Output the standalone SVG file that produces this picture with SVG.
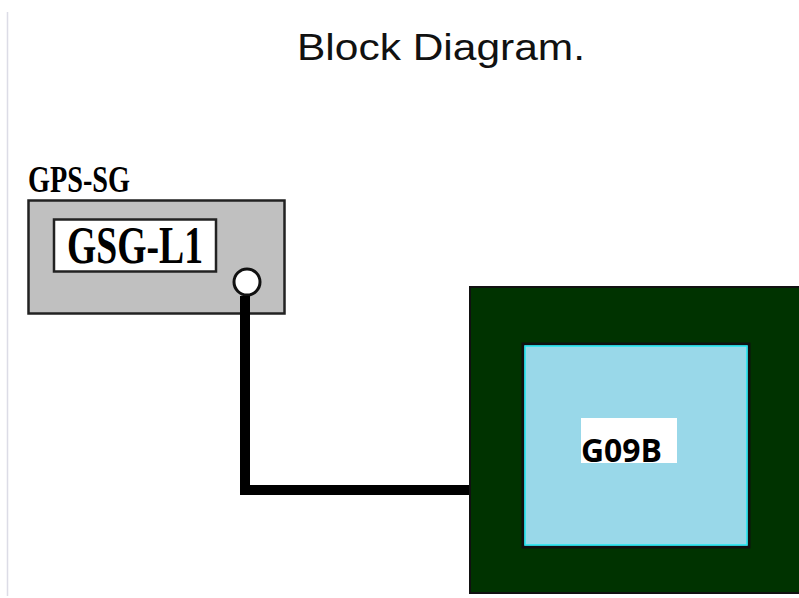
<svg xmlns="http://www.w3.org/2000/svg" width="799" height="598" viewBox="0 0 799 598">
<style>
.serif{font-family:"Liberation Serif","DejaVu Serif",serif;font-weight:bold;fill:#000}
.sans{font-family:"Liberation Sans",Arial,sans-serif;fill:#111}
.bold{font-family:"Open Sans","Noto Sans","Liberation Sans",sans-serif;font-weight:bold;fill:#000}
</style>
<rect width="799" height="598" fill="#fff"/>
<line x1="7.5" y1="12" x2="7.5" y2="596" stroke="#dcdce6" stroke-width="1.5"/>
<text class="sans" x="297" y="60" font-size="37" textLength="288" lengthAdjust="spacingAndGlyphs">Block Diagram.</text>
<g id="gps-sg">
<text class="serif" x="28" y="192" font-size="38" textLength="102" lengthAdjust="spacingAndGlyphs">GPS-SG</text>
<rect x="28.5" y="200.5" width="256" height="113" fill="#c0c0c0" stroke="#222" stroke-width="2.5"/>
<rect x="54" y="219.5" width="162" height="52" fill="#fff" stroke="#222" stroke-width="2.5"/>
<text class="serif" x="67" y="263" font-size="53" textLength="136" lengthAdjust="spacingAndGlyphs">GSG-L1</text>
<circle cx="247" cy="282" r="13" fill="#fff" stroke="#111" stroke-width="3"/>
</g>
<g id="connectors">
<polyline points="245,296 245,490 470,490" fill="none" stroke="#000" stroke-width="10" stroke-linejoin="miter"/>
</g>
<g id="g09b">
<rect x="470" y="287" width="340" height="306" fill="#003300" stroke="#111" stroke-width="2"/>
<rect x="523" y="344" width="226" height="203" fill="#99d8e9" stroke="#111" stroke-width="3"/>
<rect x="525" y="346" width="222" height="199" fill="none" stroke="#1de6f0" stroke-width="1.5"/>
<rect x="581" y="418" width="96" height="45" fill="#fff"/>
<text class="bold" x="581" y="462" font-size="33" textLength="81" lengthAdjust="spacingAndGlyphs">G09B</text>
</g>
</svg>
